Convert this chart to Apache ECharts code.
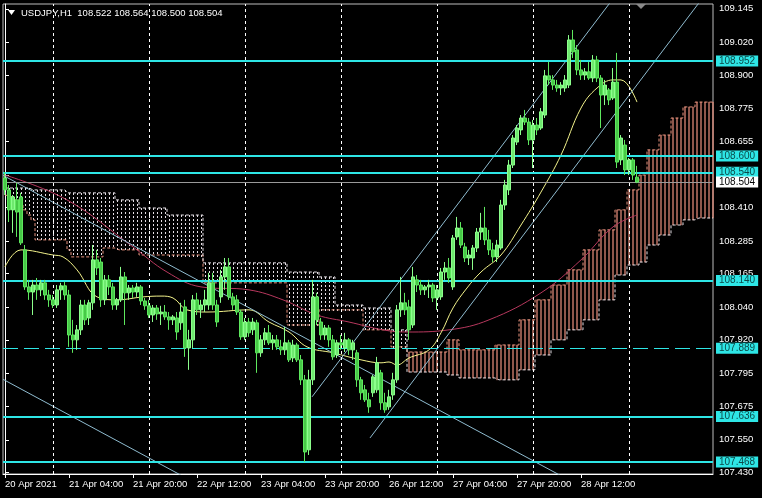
<!DOCTYPE html>
<html><head><meta charset="utf-8">
<script src="https://cdn.jsdelivr.net/npm/echarts@6/dist/echarts.min.js"></script>
<style>html,body{margin:0;padding:0;background:#000;}#c{width:762px;height:498px;}</style>
</head><body><div id="c"></div>
<script>
// ---- candles (H1 bars, index 0 = 20 Apr 2021 12:00) ----
const barOpen = [108.519,108.475,108.401,108.438,108.449,108.253,108.116,108.097,108.123,108.105,
108.131,108.086,108.068,108.049,108.105,108.120,108.086,107.938,107.920,107.957,
108.049,108.001,108.057,108.216,108.208,108.068,108.142,108.116,108.049,108.068,
108.153,108.094,108.112,108.097,108.116,108.064,108.046,108.012,108.038,108.016,
108.023,108.005,107.994,108.001,107.983,108.042,107.890,107.920,108.068,108.031,
108.049,108.049,108.131,108.049,108.079,108.153,108.190,108.079,108.068,108.023,
107.931,107.986,107.957,107.983,107.872,107.920,107.946,107.909,107.920,107.894,
107.883,107.909,107.853,107.901,107.846,107.772,107.513,107.772,108.079,107.986,
107.938,107.964,107.920,107.864,107.909,107.890,107.920,107.883,107.872,107.772,
107.735,107.698,107.724,107.735,107.798,107.687,107.672,107.716,107.772,108.031,
108.057,108.042,107.975,108.142,108.123,108.105,108.116,108.123,108.075,108.079,
108.171,108.186,108.116,108.301,108.334,108.264,108.223,108.223,108.260,108.319,
108.334,108.290,108.253,108.227,108.260,108.419,108.475,108.567,108.652,108.697,
108.741,108.726,108.660,108.715,108.704,108.752,108.897,108.882,108.863,108.852,
108.852,108.863,109.030,108.993,108.919,108.900,108.912,108.889,108.956,108.889,
108.826,108.845,108.815,108.874,108.586,108.641,108.549,108.586,108.522];
const barHigh = [108.541,108.493,108.456,108.501,108.464,108.271,108.142,108.142,108.149,108.142,
108.142,108.105,108.086,108.123,108.131,108.135,108.105,107.994,107.975,108.068,
108.068,108.068,108.271,108.253,108.223,108.160,108.160,108.131,108.075,108.190,
108.171,108.123,108.123,108.131,108.123,108.075,108.068,108.049,108.049,108.046,
108.049,108.023,108.012,108.023,108.057,108.068,107.957,108.086,108.094,108.068,
108.105,108.168,108.168,108.068,108.179,108.223,108.223,108.094,108.086,108.031,
108.001,108.001,108.001,107.994,107.938,107.964,107.975,107.938,107.938,107.920,
107.968,107.920,107.920,107.909,107.864,107.790,107.809,108.142,108.094,108.001,
107.975,107.975,107.938,107.920,107.938,107.946,107.927,107.920,107.883,107.783,
107.753,107.724,107.790,107.857,107.809,107.724,107.735,107.798,108.049,108.153,
108.094,108.068,108.190,108.160,108.142,108.123,108.142,108.131,108.123,108.186,
108.208,108.223,108.308,108.375,108.356,108.279,108.253,108.271,108.334,108.390,
108.412,108.327,108.279,108.290,108.438,108.512,108.586,108.678,108.715,108.752,
108.771,108.741,108.734,108.741,108.778,108.919,108.949,108.900,108.882,108.874,
108.900,109.048,109.067,109.011,108.956,108.926,108.949,108.974,108.971,108.900,
108.882,108.852,108.926,108.982,108.678,108.660,108.593,108.593,108.564];
const barLow = [108.456,108.356,108.316,108.301,108.271,108.105,108.068,108.012,108.068,108.082,
108.068,108.042,108.038,108.038,108.068,108.068,107.894,107.872,107.883,107.938,
107.975,107.975,108.031,108.160,108.042,108.049,108.086,108.031,108.031,108.060,
107.975,108.068,108.075,108.079,108.049,108.031,108.001,107.986,107.994,107.975,
107.994,107.957,107.975,107.920,107.957,107.857,107.809,107.890,108.012,108.001,
108.023,108.031,108.031,107.968,108.057,108.105,108.068,108.031,108.012,107.920,
107.920,107.931,107.938,107.798,107.857,107.901,107.901,107.883,107.883,107.864,
107.864,107.838,107.838,107.838,107.753,107.468,107.494,107.753,107.975,107.920,
107.920,107.894,107.846,107.853,107.883,107.875,107.864,107.846,107.746,107.698,
107.690,107.650,107.709,107.724,107.661,107.650,107.661,107.698,107.761,108.005,
108.012,107.920,107.964,108.097,108.086,108.086,108.075,108.060,108.031,108.068,
108.142,108.131,108.105,108.290,108.260,108.208,108.197,108.179,108.245,108.290,
108.271,108.234,108.208,108.208,108.253,108.401,108.456,108.556,108.641,108.678,
108.715,108.641,108.556,108.678,108.697,108.741,108.863,108.845,108.838,108.826,
108.838,108.852,108.963,108.900,108.882,108.882,108.882,108.874,108.874,108.704,
108.789,108.789,108.808,108.556,108.567,108.530,108.530,108.512,108.500];
const barClose = [108.475,108.401,108.449,108.393,108.279,108.116,108.097,108.123,108.105,108.131,
108.086,108.068,108.049,108.105,108.120,108.086,107.938,107.920,107.957,108.049,
107.994,108.057,108.216,108.186,108.068,108.142,108.116,108.049,108.068,108.153,
108.094,108.112,108.097,108.116,108.064,108.046,108.012,108.038,108.016,108.023,
108.005,107.994,108.005,107.949,108.023,107.890,107.920,108.068,108.031,108.049,
108.068,108.131,108.049,107.986,108.153,108.190,108.079,108.049,108.023,107.931,
107.986,107.946,107.986,107.872,107.920,107.946,107.909,107.920,107.894,107.883,
107.909,107.846,107.901,107.846,107.772,107.505,107.772,108.079,107.994,107.938,
107.964,107.920,107.857,107.909,107.901,107.920,107.883,107.909,107.772,107.724,
107.698,107.672,107.783,107.835,107.687,107.661,107.709,107.772,108.031,108.057,
108.031,107.957,108.153,108.123,108.105,108.116,108.123,108.075,108.105,108.171,
108.186,108.149,108.297,108.334,108.271,108.223,108.234,108.260,108.319,108.334,
108.290,108.253,108.227,108.271,108.419,108.493,108.567,108.667,108.704,108.741,
108.726,108.660,108.715,108.697,108.764,108.897,108.882,108.863,108.852,108.863,
108.882,109.030,108.986,108.919,108.900,108.912,108.889,108.956,108.889,108.826,
108.863,108.808,108.874,108.578,108.667,108.549,108.586,108.530,108.504];

// ---- Ichimoku cloud spans (bar index 0..177, shifted forward) ----
const spanA = [108.456,108.453,108.449,108.438,108.419,108.401,108.382,108.364,108.290,108.290,
108.290,108.290,108.290,108.290,108.290,108.290,108.253,108.227,108.227,108.227,
108.227,108.227,108.227,108.227,108.227,108.260,108.260,108.260,108.253,108.253,
108.253,108.253,108.253,108.253,108.234,108.234,108.234,108.234,108.234,108.234,
108.234,108.234,108.234,108.234,108.234,108.234,108.234,108.234,108.234,108.234,
108.131,108.131,108.131,108.131,108.131,108.131,108.131,108.131,108.131,108.131,
108.131,108.131,108.131,108.131,108.131,108.131,108.131,108.131,108.131,108.131,
108.131,107.975,107.975,107.975,107.975,107.975,107.975,107.975,107.975,108.031,
108.031,108.031,108.031,108.031,108.031,108.031,108.031,108.031,108.031,108.031,
107.957,107.957,107.957,107.957,107.957,107.957,107.957,107.894,107.894,107.894,
107.894,107.875,107.875,107.875,107.875,107.875,107.875,107.875,107.875,107.875,
107.875,107.920,107.920,107.920,107.883,107.883,107.883,107.883,107.883,107.883,
107.883,107.883,107.883,107.901,107.901,107.901,107.901,107.901,107.901,107.994,
107.994,107.994,107.994,108.068,108.068,108.068,108.068,108.123,108.123,108.123,
108.123,108.179,108.179,108.179,108.179,108.253,108.253,108.253,108.253,108.327,
108.327,108.327,108.327,108.401,108.401,108.401,108.475,108.475,108.475,108.530,
108.530,108.623,108.623,108.623,108.678,108.678,108.678,108.741,108.741,108.741,
108.782,108.782,108.782,108.800,108.800,108.800,108.800,108.800];
const spanB = [108.482,108.482,108.482,108.482,108.482,108.482,108.482,108.475,108.475,108.475,
108.475,108.475,108.475,108.475,108.475,108.475,108.464,108.464,108.464,108.464,
108.464,108.464,108.464,108.464,108.464,108.464,108.464,108.464,108.438,108.438,
108.438,108.438,108.438,108.438,108.408,108.408,108.408,108.408,108.408,108.408,
108.408,108.382,108.382,108.382,108.382,108.382,108.382,108.382,108.382,108.382,
108.205,108.205,108.205,108.205,108.205,108.205,108.205,108.205,108.205,108.205,
108.205,108.205,108.205,108.205,108.205,108.205,108.205,108.205,108.205,108.205,
108.205,108.171,108.171,108.171,108.171,108.171,108.171,108.171,108.171,108.153,
108.153,108.153,108.153,108.049,108.049,108.049,108.049,108.049,108.049,108.049,
108.038,108.038,108.038,108.038,108.038,108.038,108.038,107.957,107.957,107.957,
107.957,107.801,107.801,107.801,107.801,107.801,107.801,107.801,107.801,107.801,
107.801,107.790,107.790,107.790,107.779,107.779,107.779,107.779,107.779,107.779,
107.779,107.779,107.779,107.772,107.772,107.772,107.772,107.772,107.772,107.809,
107.809,107.809,107.809,107.864,107.864,107.864,107.864,107.920,107.920,107.920,
107.920,107.957,107.957,107.957,107.957,107.994,107.994,107.994,107.994,108.068,
108.068,108.068,108.068,108.160,108.160,108.160,108.197,108.197,108.197,108.208,
108.208,108.271,108.271,108.271,108.308,108.308,108.308,108.345,108.345,108.345,
108.364,108.364,108.364,108.371,108.371,108.371,108.371,108.371];

// ---- moving averages (bar index, price) ----
const maFastIdx = [0,4,12,14.5,18,23,28,34.5,39,42,45.5,50.5,61,66,71,75.5,82,89,94,96,98,101,106,109,112,115.5,119,124,129,134,139,144,148,152,154,158];
const maFastVal = [108.190,108.253,108.234,108.227,108.179,108.079,108.068,108.079,108.082,108.075,108.031,108.023,108.031,107.986,107.949,107.894,107.872,107.846,107.835,107.838,107.827,107.853,107.883,107.946,108.038,108.112,108.171,108.234,108.345,108.467,108.604,108.778,108.852,108.882,108.882,108.800];
const maSlowIdx = [0,15.5,32,40.5,49,61,69.5,78,86,94.5,100.5,111,121,134,144,152,158];
const maSlowVal = [108.530,108.438,108.264,108.171,108.116,108.105,108.068,108.012,107.986,107.957,107.949,107.957,107.994,108.094,108.216,108.338,108.382];

// ---- trend lines: [startIdx, startPrice, endIdx, endPrice] ----
const trendLines = [
  [-0.5, 108.529, 140, 107.409],
  [-0.5, 107.774, 45, 107.411],
  [76.75, 107.709, 160, 109.339],
  [91.25, 107.557, 177, 109.236]
];

// ---- horizontal levels ----
const levelLines = [108.952, 108.600, 108.540, 108.140, 107.636, 107.468];
const dashedLevels = [107.889];
const bidPrice = 108.504;

// ---- axes ----
const priceTicks = [109.145,109.020,108.900,108.775,108.655,108.530,108.410,108.285,108.165,108.040,107.920,107.795,107.675,107.550,107.430];
const timeTickIdx = [0,16,32,48,64,80,96,112,128,144];
const timeTickLabels = ['20 Apr 2021','21 Apr 04:00','21 Apr 20:00','22 Apr 12:00','23 Apr 04:00','23 Apr 20:00','26 Apr 12:00','27 Apr 04:00','27 Apr 20:00','28 Apr 12:00'];
const daySepIdx = [12,36,60,84,108,132,156];
const symbolName = 'USDJPY,H1';

const FONT = 'Liberation Sans';
const CYAN = '#2ee6e6';
const BULL_CLOUD = '#e8937e';
const BULL_FILL = 'rgba(228,140,122,0.5)';
const BEAR_CLOUD = '#e4dee4';

const candleData = barOpen.map((o, i) => [i, o, barClose[i], barLow[i], barHigh[i]]);
const bullCloud = [], bearCloud = [];
spanA.forEach((a, i) => {
  const top = Math.max(a, spanB[i]), bot = Math.min(a, spanB[i]);
  if (a >= spanB[i]) bullCloud.push([i, bot, top, bot, top]);
  else bearCloud.push([i, top, bot]);
});
const last = barOpen.length - 1;
const headerText = symbolName + '  ' + [barOpen[last], barHigh[last], barLow[last], barClose[last]].map(v => v.toFixed(3)).join(' ');

const boxLabel = (v, bg, fg) => ({show: true, position: 'end', distance: 3, formatter: v.toFixed(3),
  backgroundColor: bg, color: fg, fontFamily: FONT, fontSize: 10,
  padding: [1, 3, 0, 3], lineHeight: 10});

const levelMarks = levelLines.map(v => ({
  yAxis: v, lineStyle: {color: CYAN, width: 2, type: 'solid'}, label: boxLabel(v, CYAN, '#0b4a4a')
}));
const dashedMarks = dashedLevels.map(v => ({
  yAxis: v, lineStyle: {color: CYAN, width: 1, type: [15, 6]}, label: boxLabel(v, CYAN, '#0b4a4a')
}));
const bidMark = {
  yAxis: bidPrice, lineStyle: {color: '#9a9a9a', width: 1, type: 'solid'}, label: boxLabel(bidPrice, '#ffffff', '#000000')
};

const trendSeries = trendLines.map(t => ({
  type: 'line', data: [[t[0], t[1]], [t[2], t[3]]], symbol: 'none', clip: true,
  lineStyle: {color: '#8fbcd0', width: 1}, z: 4, silent: true
}));

const chart = echarts.init(document.getElementById('c'), null, {renderer: 'canvas'});
chart.setOption({
  backgroundColor: '#000000',
  animation: false,
  grid: {left: 3, right: 49, top: 4, bottom: 24, show: true, borderColor: '#bdbdbd', borderWidth: 1},
  xAxis: {
    type: 'value', min: -0.5, max: 177,
    axisLine: {show: true, lineStyle: {color: '#ffffff'}},
    axisTick: {show: true, customValues: timeTickIdx, length: 4, lineStyle: {color: '#ffffff'}},
    axisLabel: {show: true, customValues: timeTickIdx, align: 'left', margin: 5,
      color: '#ffffff', fontFamily: FONT, fontSize: 9.5,
      formatter: v => timeTickLabels[timeTickIdx.indexOf(Math.round(v))] || ''},
    splitLine: {show: false}
  },
  yAxis: {
    type: 'value', position: 'right', min: 107.4235, max: 109.163, scale: true,
    axisLine: {show: true, lineStyle: {color: '#ffffff'}},
    axisTick: {show: true, customValues: priceTicks, length: 4, lineStyle: {color: '#ffffff'}},
    axisLabel: {show: true, customValues: priceTicks, margin: 6, color: '#ffffff',
      fontFamily: FONT, fontSize: 9.5, formatter: v => v.toFixed(3)},
    splitLine: {show: false}
  },
  graphic: [
    {type: 'polygon', shape: {points: [[8, 10], [15, 10], [11.5, 15]]}, style: {fill: '#ffffff'}},
    {type: 'text', left: 21, top: 8, style: {text: headerText, fill: '#ffffff', font: '9.5px "Liberation Sans"'}},
    {type: 'polygon', shape: {points: [[636, 4], [646, 4], [641, 9]]}, style: {fill: '#8a8a8a'}}
  ],
  series: [
    {
      type: 'custom', data: bearCloud, z: 1, silent: true, clip: true,
      encode: {x: 0, y: [1, 2]},
      renderItem: function (params, api) {
        const top = api.coord([api.value(0), api.value(1)]);
        const bot = api.coord([api.value(0), api.value(2)]);
        const x = Math.round(top[0]);
        const dots = [];
        for (let y = Math.round(top[1]); y <= bot[1]; y += 4) {
          dots.push({type: 'rect', shape: {x: x, y: y, width: 1, height: 2}, style: {fill: BEAR_CLOUD}});
        }
        return {type: 'group', children: dots};
      }
    },
    {
      type: 'candlestick', data: bullCloud, encode: {x: 0, y: [1, 2, 3, 4]}, barWidth: 2, z: 1, silent: true,
      itemStyle: {color: BULL_FILL, borderColor: BULL_FILL, color0: BULL_FILL, borderColor0: BULL_FILL, borderWidth: 1}
    },
    {type: 'line', data: spanA.map((v, i) => [i, v]), step: 'middle', symbol: 'none', z: 2, silent: true,
      lineStyle: {color: BULL_CLOUD, width: 1, type: [3, 2]},
      markLine: {
        silent: true, symbol: 'none', animation: false,
        label: {show: false},
        lineStyle: {color: '#ffffff', width: 1, type: [3, 3]},
        data: daySepIdx.map(i => ({xAxis: i}))
      }},
    {type: 'line', data: spanB.map((v, i) => [i, v]), step: 'middle', symbol: 'none', z: 2, silent: true,
      lineStyle: {color: BEAR_CLOUD, width: 1, type: [3, 2]}},
    {type: 'line', data: maSlowIdx.map((x, i) => [x, maSlowVal[i]]), smooth: 0.4, symbol: 'none', z: 3, silent: true,
      lineStyle: {color: '#b8385e', width: 1}},
    {type: 'line', data: maFastIdx.map((x, i) => [x, maFastVal[i]]), smooth: 0.4, symbol: 'none', z: 3, silent: true,
      lineStyle: {color: '#f4f48c', width: 1}},
    ...trendSeries,
    {
      type: 'candlestick', data: candleData, encode: {x: 0, y: [1, 2, 3, 4]}, barWidth: 3, z: 5,
      itemStyle: {color: '#6fe86f', color0: '#47c847', borderColor: '#8cff8c', borderColor0: '#5ee85e', borderWidth: 1},
      markLine: {
        silent: true, symbol: 'none', animation: false, precision: 3,
        data: [...levelMarks, ...dashedMarks, bidMark]
      }
    }
  ]
});
</script></body></html>
